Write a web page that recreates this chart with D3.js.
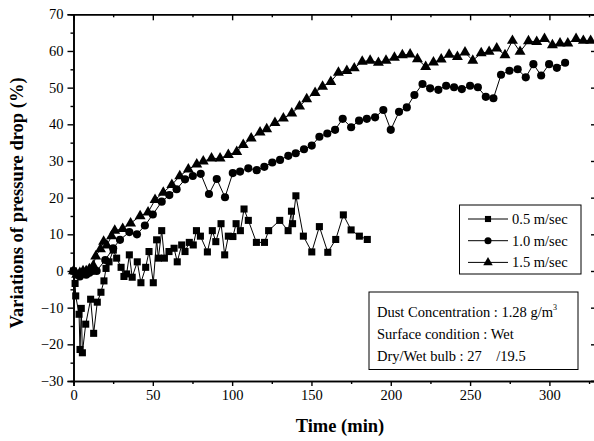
<!DOCTYPE html>
<html>
<head>
<meta charset="utf-8">
<script src="https://cdn.jsdelivr.net/npm/d3@7"></script>
<style>
  body { margin: 0; background: #fff; }
  text { font-family: "Liberation Serif", "Times New Roman", "DejaVu Serif", serif; }
</style>
</head>
<body>
<div id="chart"></div>
<script>
// series: [time (min), variation of pressure drop (%)]
const v05 = [[0,0],[1,-3.4],[1.4,-6.8],[3.5,-11.8],[4.1,-21.4],[4.9,-10.2],[5.6,-22.3],[7.7,-14.5],[10.8,-7.7],[12.7,-17],[15,-8.5],[17.3,-5.8],[19.2,-2.7],[20.5,0.7],[22.4,2.5],[25.1,5.7],[27.2,3.5],[30,1],[31.8,-1.5],[33.5,-0.8],[35.2,4.4],[37,-1.7],[40.2,2.5],[42.5,-3.2],[45.5,1],[47.6,5.3],[50.3,-3.2],[52.4,8.5],[53.5,3.5],[55.6,11],[57.3,3.5],[60.2,5.3],[63.4,6.2],[65.4,2.5],[68.2,7.1],[70.3,5.3],[73,7.8],[75.5,7.1],[77.5,11],[80,9.5],[84.4,5.2],[87.5,11],[89.7,8],[93,12.9],[95.3,4.4],[97.6,9.5],[100.5,9.4],[102.5,12.9],[105.2,11],[107.5,16.9],[110.2,13.8],[115.3,7.8],[120.4,7.8],[123,11],[130,13.8],[135.3,11],[137.4,16.3],[138.1,12.9],[140.2,20.5],[144.9,9.5],[150.2,5.2],[155,12.1],[160.3,5.1],[165.3,8.6],[170.1,15.3],[175,11.2],[180.2,9.5],[185.2,8.6]]

const v10 = [[0,0],[2,-1],[4,-1.5],[6,-0.5],[8,-1],[10,-0.5],[12,0],[14.6,0],[20,3],[25,6.2],[29.3,8.5],[35.2,10.6],[40,10],[45,12.4],[50,15.4],[55.6,18.9],[60.4,20.7],[65,22.3],[70.3,25],[75.2,25.9],[80.2,26.5],[85.4,21],[90.3,25.1],[95.5,20.1],[100.4,26.7],[105,27.1],[110.2,28],[115.5,27.5],[120.3,28.4],[125.3,29.6],[130.2,30.3],[135.4,31.4],[140.1,32.1],[145.3,33.2],[150.2,34.2],[155,36.6],[160,37.5],[164.9,38.5],[169.7,41.5],[175,39.2],[180,41],[184.9,41.5],[190.1,41.9],[195.3,43.9],[200,38.5],[205.2,43.4],[210.1,44.6],[214.9,48],[220,51],[224.8,49.8],[230,49.4],[234.9,50.5],[239.9,50.1],[244.8,49.6],[250,50.5],[254.9,50.1],[259.9,47.5],[264.7,47.1],[269.5,53.5],[274.8,54.6],[280,55],[285.1,52.8],[289.9,56.4],[294.8,53.3],[299.8,56.4],[304.7,55.4],[309.9,56.8]]

const v15 = [[0,0],[2,-1],[4,-0.5],[6,0],[8,0],[10,0.5],[12.5,1.5],[14,4],[17,6],[19,8],[21,7],[24,9.5],[26,11],[31,11.5],[36,13],[42,15],[47,16],[51.4,19.4],[56.6,21.4],[62,23.5],[67,25.9],[72.4,27.7],[77.7,29.1],[81.8,29.9],[87,30.7],[92.4,30.7],[97.6,31.7],[102.9,32.5],[107,34.4],[112,36.2],[117.6,37.8],[121.8,38.7],[127,40.4],[132.3,41.6],[137.6,43],[142.5,44.9],[147,46.9],[152.3,48.6],[157,50.3],[162.2,51.6],[167,54.1],[172.3,54.6],[177,55.3],[182,57.1],[187,57.4],[192.2,56.8],[197,57.4],[202.3,58.2],[207.3,58.9],[212.2,59.1],[216.8,57.8],[222,55.7],[226.9,56.9],[231.8,57.7],[236.8,59],[242,58.4],[246.8,59.6],[251.7,57.4],[257,59.4],[262,59.8],[266.8,60.7],[272,58.9],[276.7,62.8],[281.5,59.8],[286.8,62.7],[292,62.5],[296.9,63.3],[301.9,61.6],[306.7,62.1],[311.6,62.1],[316.8,63.3],[321.4,62.8],[326,62.8]]

const xTicks = [0, 50, 100, 150, 200, 250, 300]
const yTicks = [-30, -20, -10, 0, 10, 20, 30, 40, 50, 60, 70]
const legendLabels = ["0.5 m/sec", "1.0 m/sec", "1.5 m/sec"]
const infoLines = ["Dust Concentration : 1.28 g/m", "Surface condition : Wet", "Dry/Wet bulb : 27    /19.5"]

const width = 594, height = 441
const serif = '"Liberation Serif", "Times New Roman", "DejaVu Serif", serif'

const svg = d3.select('#chart').append('svg')
    .attr('width', width)
    .attr('height', height)
    .attr('font-family', serif)

const x = d3.scaleLinear().domain([0, 330]).range([73.5, 597])
const y = d3.scaleLinear().domain([-30, 70]).range([381, 14.3])

const styleAxis = (g) => {
    g.attr('font-family', serif)
    g.selectAll('path.domain').attr('stroke', '#000').attr('stroke-width', 1.6)
    g.selectAll('.tick line').attr('stroke', '#000').attr('stroke-width', 1.4)
    g.selectAll('.tick text').attr('font-size', 14.5).attr('fill', '#000')
}

// minor ticks
const xMinor = d3.range(25, 330, 50)
const yMinor = d3.range(-25, 70, 10)

// bottom
svg.append('g').attr('transform', `translate(0,${y(-30)})`)
    .call(d3.axisBottom(x).tickValues(xTicks).tickSize(5).tickPadding(4).tickFormat(d3.format('d')))
    .call(styleAxis)
svg.append('g').attr('transform', `translate(0,${y(-30)})`)
    .call(d3.axisBottom(x).tickValues(xMinor).tickSize(3).tickFormat(''))
    .call(styleAxis)

// top (ticks inward)
svg.append('g').attr('transform', `translate(0,${y(70)})`)
    .call(d3.axisTop(x).tickValues(xTicks).tickSize(-6).tickFormat(''))
    .call(styleAxis)
svg.append('g').attr('transform', `translate(0,${y(70)})`)
    .call(d3.axisTop(x).tickValues(xMinor).tickSize(-3).tickFormat(''))
    .call(styleAxis)

// left
svg.append('g').attr('transform', `translate(${x(0)},0)`)
    .call(d3.axisLeft(y).tickValues(yTicks).tickSize(6).tickPadding(4).tickFormat(d3.format('d')))
    .call(styleAxis)
svg.append('g').attr('transform', `translate(${x(0)},0)`)
    .call(d3.axisLeft(y).tickValues(yMinor).tickSize(3).tickFormat(''))
    .call(styleAxis)

// right (ticks inward)
svg.append('g').attr('transform', `translate(${x(330)},0)`)
    .call(d3.axisRight(y).tickValues(yTicks).tickSize(-6).tickFormat(''))
    .call(styleAxis)
svg.append('g').attr('transform', `translate(${x(330)},0)`)
    .call(d3.axisRight(y).tickValues(yMinor).tickSize(-3).tickFormat(''))
    .call(styleAxis)

// series
const line = d3.line().x(d => x(d[0])).y(d => y(d[1]))
const series = [
    { data: v05, shape: d3.symbolSquare, size: 50 },
    { data: v10, shape: d3.symbolCircle, size: 52 },
    { data: v15, shape: d3.symbolTriangle, size: 52 }
]

series.forEach(s => {
    svg.append('path')
        .datum(s.data)
        .attr('d', line)
        .attr('fill', 'none')
        .attr('stroke', '#000')
        .attr('stroke-width', 1)
})
series.forEach(s => {
    svg.append('g').selectAll('path')
        .data(s.data)
        .enter().append('path')
        .attr('transform', d => `translate(${x(d[0])},${y(d[1])})`)
        .attr('d', d3.symbol().type(s.shape).size(s.size))
        .attr('fill', '#000')
})

// axis titles
svg.append('text')
    .attr('x', 340).attr('y', 431.5)
    .attr('text-anchor', 'middle')
    .attr('font-size', 18.5).attr('font-weight', 'bold')
    .text('Time (min)')

svg.append('text')
    .attr('transform', 'translate(22.5,203) rotate(-90)')
    .attr('text-anchor', 'middle')
    .attr('font-size', 18.5).attr('font-weight', 'bold')
    .text('Variations of pressure drop (%)')

// legend
const legend = svg.append('g')
legend.append('rect')
    .attr('x', 459.5).attr('y', 205).attr('width', 121.5).attr('height', 69)
    .attr('fill', '#fff').attr('stroke', '#000').attr('stroke-width', 1)

legendLabels.forEach((lab, i) => {
    const ly = 219 + i * 21.7
    legend.append('line')
        .attr('x1', 468).attr('x2', 508).attr('y1', ly).attr('y2', ly)
        .attr('stroke', '#000').attr('stroke-width', 1)
    legend.append('path')
        .attr('transform', `translate(488,${ly})`)
        .attr('d', d3.symbol().type(series[i].shape).size(series[i].size * 0.75))
        .attr('fill', '#000')
    legend.append('text')
        .attr('x', 512).attr('y', ly + 5)
        .attr('font-size', 14.5)
        .text(lab)
})

// info box
const info = svg.append('g')
info.append('rect')
    .attr('x', 369).attr('y', 292).attr('width', 209).attr('height', 77.5)
    .attr('fill', '#fff').attr('stroke', '#000').attr('stroke-width', 1)

infoLines.forEach((t, i) => {
    const txt = info.append('text')
        .attr('x', 377).attr('y', 316.5 + i * 22)
        .attr('font-size', 14.5)
        .style('white-space', 'pre')
        .text(t)
    if (i === 0) {
        txt.append('tspan').attr('dy', -7).attr('font-size', 8).text('3')
    }
})
</script>
</body>
</html>
